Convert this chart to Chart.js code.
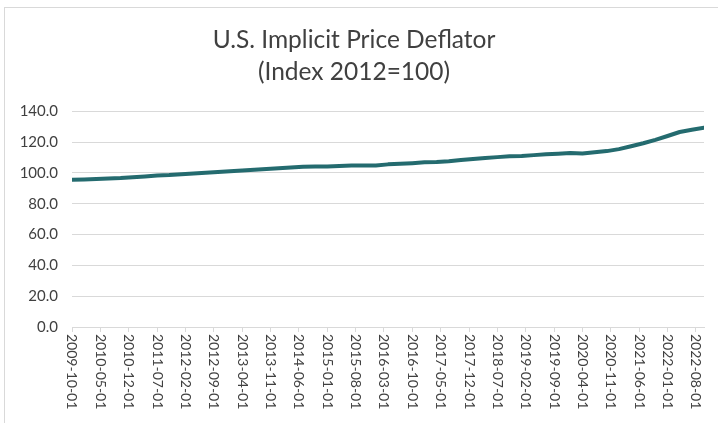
<!DOCTYPE html>
<html lang="en">
<head>
  <meta charset="UTF-8" />
  <title>U.S. Implicit Price Deflator</title>
  <script src="https://cdn.jsdelivr.net/npm/chart.js"></script>
  <style>
    body {
      margin: 0;
      background: #ffffff;
      overflow: hidden;
    }
    .frame {
      position: absolute;
      left: 4px;
      top: 7px;
      width: 760px;
      height: 460px;
      border: 1px solid #d9d9d9;
      pointer-events: none;
    }
    .chart-container {
      position: absolute;
      left: 0;
      top: 0;
      width: 718px;
      height: 423px;
    }
  </style>
</head>
<body>
  <div class="frame"></div>
  <div class="chart-container">
    <canvas id="deflatorChart"></canvas>
  </div>

  <script>
    // Quarterly observations (first day of each quarter)
    const quarters = [
      '2009-10-01',
      '2010-01-01', '2010-04-01', '2010-07-01', '2010-10-01',
      '2011-01-01', '2011-04-01', '2011-07-01', '2011-10-01',
      '2012-01-01', '2012-04-01', '2012-07-01', '2012-10-01',
      '2013-01-01', '2013-04-01', '2013-07-01', '2013-10-01',
      '2014-01-01', '2014-04-01', '2014-07-01', '2014-10-01',
      '2015-01-01', '2015-04-01', '2015-07-01', '2015-10-01',
      '2016-01-01', '2016-04-01', '2016-07-01', '2016-10-01',
      '2017-01-01', '2017-04-01', '2017-07-01', '2017-10-01',
      '2018-01-01', '2018-04-01', '2018-07-01', '2018-10-01',
      '2019-01-01', '2019-04-01', '2019-07-01', '2019-10-01',
      '2020-01-01', '2020-04-01', '2020-07-01', '2020-10-01',
      '2021-01-01', '2021-04-01', '2021-07-01', '2021-10-01',
      '2022-01-01', '2022-04-01', '2022-07-01', '2022-10-01'
    ];
    const deflator = [
      95.5,
      95.7, 96.0, 96.3, 96.6,
      97.2, 97.7, 98.3, 98.6,
      99.1, 99.6, 100.1, 100.6,
      101.1, 101.5, 102.0, 102.5,
      103.0, 103.5, 103.9, 104.1,
      104.1, 104.5, 104.8, 104.8,
      104.8, 105.5, 105.9, 106.3,
      106.8, 107.1, 107.6, 108.3,
      109.0, 109.7, 110.2, 110.7,
      111.0, 111.5, 112.0, 112.4,
      112.9, 112.6, 113.4, 114.1,
      115.4, 117.3, 119.2, 121.4,
      123.9, 126.5, 128.0, 129.3
    ];
    const title = ['U.S. Implicit Price Deflator', '(Index 2012=100)'];
    const startDate = '2009-10-01';
    const endDate = '2022-10-01';
    const tickEveryMonths = 7;

    // months elapsed since the first observation
    function monthIndex(d) {
      const y = +d.slice(0, 4), m = +d.slice(5, 7);
      const y0 = +startDate.slice(0, 4), m0 = +startDate.slice(5, 7);
      return (y - y0) * 12 + (m - m0);
    }
    function monthLabel(i) {
      const y0 = +startDate.slice(0, 4), m0 = +startDate.slice(5, 7) - 1;
      const t = y0 * 12 + m0 + i;
      const y = Math.floor(t / 12), m = t % 12 + 1;
      return y + '-' + String(m).padStart(2, '0') + '-01';
    }

    const points = quarters.map((q, i) => ({ x: monthIndex(q), y: deflator[i] }));
    const textColor = '#404040';
    const gridColor = '#d9d9d9';

    // x labels read top-to-bottom (rotated clockwise), drawn from the scale's ticks
    const downLabels = {
      id: 'downLabels',
      afterDraw(chart) {
        const xs = chart.scales.x;
        const ctx = chart.ctx;
        ctx.save();
        ctx.fillStyle = textColor;
        ctx.font = '14px Lato';
        ctx.textAlign = 'left';
        ctx.textBaseline = 'middle';
        xs.ticks.forEach(t => {
          const px = xs.getPixelForValue(t.value);
          ctx.save();
          ctx.translate(px, xs.top + 7);
          ctx.rotate(Math.PI / 2);
          ctx.fillText(monthLabel(t.value), 0, 0);
          ctx.restore();
        });
        ctx.restore();
      }
    };

    const ctx = document.getElementById('deflatorChart').getContext('2d');
    new Chart(ctx, {
      type: 'line',
      data: {
        datasets: [{
          label: 'Deflator',
          data: points,
          borderColor: '#246b6f',
          borderWidth: 4,
          borderCapStyle: 'round',
          borderJoinStyle: 'round',
          pointRadius: 0,
          tension: 0,
          fill: false
        }]
      },
      options: {
        responsive: true,
        maintainAspectRatio: false,
        animation: false,
        layout: { padding: { left: 4, right: 14, top: 8, bottom: 0 } },
        plugins: {
          legend: { display: false },
          tooltip: { enabled: false },
          title: {
            display: true,
            text: title,
            color: textColor,
            font: { family: 'Lato', size: 24.5, weight: 'normal', lineHeight: 1.31 },
            padding: { top: 16, bottom: 23 }
          }
        },
        scales: {
          x: {
            type: 'linear',
            min: 0,
            max: monthIndex(endDate),
            afterFit: s => { s.height = 96; },
            ticks: {
              stepSize: tickEveryMonths,
              includeBounds: false,
              autoSkip: false,
              minRotation: 90,
              maxRotation: 90,
              color: 'rgba(0,0,0,0)',
              callback: v => monthLabel(v)
            },
            grid: { drawOnChartArea: false, drawTicks: true, tickLength: 5, color: gridColor },
            border: { display: true, color: gridColor }
          },
          y: {
            min: 0,
            max: 140,
            afterFit: s => { s.width = 68; },
            ticks: {
              stepSize: 20,
              padding: 14,
              color: textColor,
              font: { family: 'Lato', size: 15 },
              callback: v => v.toFixed(1)
            },
            grid: { color: gridColor, drawTicks: false },
            border: { display: false }
          }
        }
      },
      plugins: [downLabels]
    });
  </script>
</body>
</html>
